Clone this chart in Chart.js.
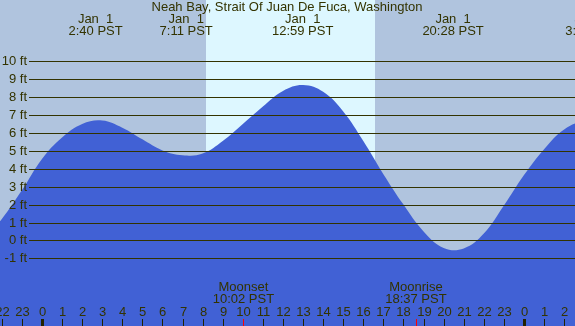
<!DOCTYPE html>
<html>
<head>
<meta charset="utf-8">
<script src="https://cdn.jsdelivr.net/npm/chart.js@4/dist/chart.umd.min.js"></script>
<style>
  body { margin: 0; background: #b0c4de; }
  canvas { display: block; }
</style>
</head>
<body>
<canvas id="tideChart" width="575" height="326"></canvas>
<script>
// hours from midnight Jan 1 (PST) and tide height in ft
const hours = [-3, -2, -1, 0, 1, 2, 3, 4, 5, 6, 7, 8, 9, 10, 11, 12, 13, 14, 15, 16, 17, 18, 19, 20, 21, 22, 23, 24, 25, 26, 27, 28];
const heights = [-0.1, 1.2, 2.8, 4.55, 5.75, 6.5, 6.7, 6.3, 5.65, 5.03, 4.76, 4.85, 5.55, 6.5, 7.48, 8.35, 8.68, 8.3, 7.2, 5.55, 3.7, 2.0, 0.5, -0.42, -0.45, 0.38, 1.95, 3.65, 5.1, 6.2, 6.65, 6.55];

// high / low tide labels along the top
const eventHours = [2.67, 7.18, 12.98, 20.47, 27.4];
const eventDays = ['Jan  1', 'Jan  1', 'Jan  1', 'Jan  1', 'Jan  2'];
const eventTimes = ['2:40 PST', '7:11 PST', '12:59 PST', '20:28 PST', '3:25 PST'];

// moon events
const moonHours = [10.03, 18.62];
const moonNames = ['Moonset', 'Moonrise'];
const moonTimes = ['10:02 PST', '18:37 PST'];

const sunrise = 8.17;
const sunset = 16.58;

const feetTicks = [-1, 0, 1, 2, 3, 4, 5, 6, 7, 8, 9, 10];
const hourTicks = [-2, -1, 0, 1, 2, 3, 4, 5, 6, 7, 8, 9, 10, 11, 12, 13, 14, 15, 16, 17, 18, 19, 20, 21, 22, 23, 24, 25, 26];

const ink = '#333300';
const font = '13px "Liberation Sans", Arial, sans-serif';

const tideDecor = {
    id: 'tideDecor',
    beforeDraw(chart) {
        const ctx = chart.ctx;
        const x = chart.scales.x;
        ctx.save();
        ctx.fillStyle = '#b0c4de';
        ctx.fillRect(0, 0, chart.width, chart.height);
        ctx.fillStyle = '#ddf7ff';
        const x0 = Math.round(x.getPixelForValue(sunrise));
        const x1 = Math.round(x.getPixelForValue(sunset));
        ctx.fillRect(x0, 0, x1 - x0, chart.height);
        ctx.restore();
    },
    afterDatasetsDraw(chart) {
        const ctx = chart.ctx;
        const x = chart.scales.x;
        const y = chart.scales.y;
        const h = chart.height;
        ctx.save();
        ctx.font = font;
        ctx.fillStyle = ink;
        ctx.strokeStyle = ink;
        ctx.lineWidth = 1;

        // horizontal ft lines and labels
        ctx.textAlign = 'right';
        ctx.textBaseline = 'middle';
        feetTicks.forEach(v => {
            const py = Math.round(y.getPixelForValue(v)) + 0.5;
            ctx.beginPath();
            ctx.moveTo(29, py);
            ctx.lineTo(chart.width, py);
            ctx.stroke();
            ctx.fillText(v + ' ft', 27, py);
        });

        // title and tide times
        ctx.textAlign = 'center';
        ctx.fillText('Neah Bay, Strait Of Juan De Fuca, Washington', 287, 7);
        eventHours.forEach((eh, i) => {
            const px = x.getPixelForValue(eh);
            ctx.fillText(eventDays[i], px, 19);
            ctx.fillText(eventTimes[i], px, 31);
        });

        // moon events
        moonHours.forEach((mh, i) => {
            const px = x.getPixelForValue(mh);
            ctx.fillText(moonNames[i], px, 287);
            ctx.fillText(moonTimes[i], px, 299);
        });

        // hour labels and ticks
        hourTicks.forEach(hr => {
            const px = Math.round(x.getPixelForValue(hr));
            const label = ((hr % 24) + 24) % 24;
            ctx.fillStyle = ink;
            ctx.fillText(String(label), px + 0.5, 312);
            ctx.fillStyle = '#222200';
            if (label === 0) {
                ctx.fillRect(px - 1, 319, 3, h - 319);
            } else {
                ctx.fillRect(px, 319, 1, h - 319);
            }
        });
        ctx.fillStyle = '#ff0000';
        moonHours.forEach(mh => {
            const px = Math.round(x.getPixelForValue(mh));
            ctx.fillRect(px, 319, 1, h - 319);
        });
        ctx.restore();
    }
};

document.addEventListener('DOMContentLoaded', () => {
    const ctx = document.getElementById('tideChart').getContext('2d');
    new Chart(ctx, {
        type: 'line',
        data: {
            datasets: [{
                label: 'Tide',
                data: hours.map((hr, i) => ({ x: hr, y: heights[i] })),
                backgroundColor: '#4161d5',
                borderWidth: 0,
                pointRadius: 0,
                fill: 'start',
                tension: 0.4
            }]
        },
        options: {
            responsive: false,
            animation: false,
            devicePixelRatio: 1,
            layout: { padding: 0 },
            scales: {
                x: { type: 'linear', min: -2.09, max: 26.54, display: false },
                y: { min: -4.78, max: 13.43, display: false }
            },
            plugins: {
                legend: { display: false },
                tooltip: { enabled: false }
            }
        },
        plugins: [tideDecor]
    });
});
</script>
</body>
</html>
